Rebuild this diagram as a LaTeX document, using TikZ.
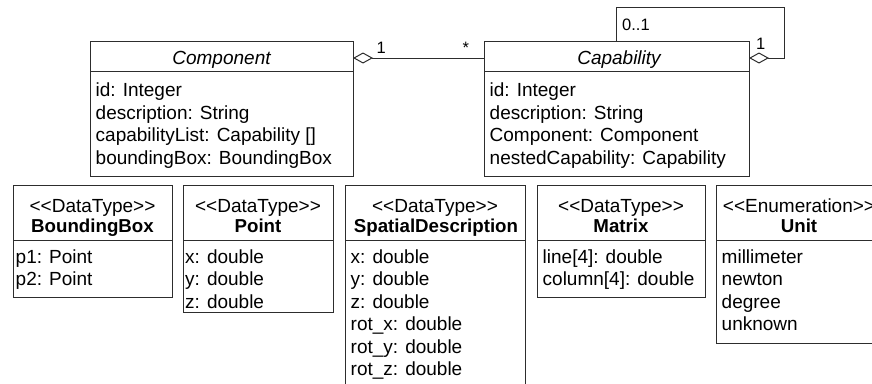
\documentclass[tikz,border=0pt]{standalone}
\usepackage{fontspec}
\setmainfont{Liberation Sans}
\usetikzlibrary{arrows.meta}
\definecolor{lc}{RGB}{45,45,45}
\tikzset{
  box/.style={draw=lc, line width=1pt, inner sep=0pt, outer sep=0pt, anchor=north west},
  attr/.style={anchor=base west, inner sep=0pt, font=\fontsize{19}{22}\selectfont},
  cname/.style={anchor=base, inner sep=0pt, font=\fontsize{19}{22}\selectfont\itshape},
  stereo/.style={anchor=base, inner sep=0pt, font=\fontsize{19}{22}\selectfont},
  dname/.style={anchor=base, inner sep=0pt, font=\fontsize{18.7}{22}\selectfont\bfseries},
  mult/.style={anchor=base west, inner sep=0pt, font=\fontsize{16.5}{18}\selectfont},
  conn/.style={draw=lc, line width=1pt},
  agg/.style={{Diamond[open,length=20pt,width=11pt]}-},
}
\newcommand\attrlist[4]{%
  \foreach \t [count=\i] in {#4} {\node[attr] (#1\i) at ({#2},{#3+22.5*(\i-1)}) {\t};}}
\begin{document}
\begin{tikzpicture}[x=1pt,y=-1pt]
\useasboundingbox (0,0) rectangle (872,383);
\clip (0,0) rectangle (872,383);
% Component
\node[box, minimum width=263pt, minimum height=30pt] (compH) at (90,41) {};
\node[box, minimum width=263pt, minimum height=105pt] (compB) at (90,71) {};
\node[cname] (compN) at (221.5,64) {Component};
\attrlist{comp}{95.5}{96.7}{id: Integer, description: String, {capabilityList: Capability []}, boundingBox: BoundingBox}
% Capability
\node[box, minimum width=265pt, minimum height=30pt] (capH) at (484,41) {};
\node[box, minimum width=265pt, minimum height=105pt] (capB) at (484,71) {};
\node[cname] (capN) at (619,64) {Capability};
\attrlist{cap}{489.5}{96.7}{id: Integer, description: String, Component: Component, nestedCapability: Capability}
% association Component - Capability
\draw[conn, agg] ([yshift=-2pt]compH.east) -- ([yshift=-2pt]capH.west);
\node[mult] (m1) at (376.5,53) {1};
\node[mult] (m2) at (462.5,53) {*};
% self association
\coordinate (loopTR) at (784,7.3);
\draw[conn, agg] ([yshift=-2pt]capH.east) -- ([yshift=-2pt]capH.east -| loopTR) -- (loopTR) -- (capH.north |- loopTR) -- (capH.north);
\node[mult] (m3) at (622,30) {0..1};
\node[mult] (m4) at (756,49.3) {1};
% BoundingBox
\node[box, minimum width=159pt, minimum height=55pt] (bbH) at (13,185) {};
\node[box, minimum width=159pt, minimum height=57pt] (bbB) at (13,240) {};
\node[stereo] (bbS) at (92.5,212) {<{}<DataType>{}>};
\node[dname] (bbN) at (92.5,232.5) {BoundingBox};
\attrlist{bb}{15.5}{263.3}{p1: Point, p2: Point}
% Point
\node[box, minimum width=150pt, minimum height=55pt] (ptH) at (183,185) {};
\node[box, minimum width=150pt, minimum height=72pt] (ptB) at (183,240) {};
\node[stereo] (ptS) at (258,212) {<{}<DataType>{}>};
\node[dname] (ptN) at (258,232.5) {Point};
\attrlist{pt}{185}{263.3}{x: double, y: double, z: double}
% SpatialDescription
\node[box, minimum width=180pt, minimum height=55pt] (sdH) at (345,185) {};
\node[box, minimum width=180pt, minimum height=160pt] (sdB) at (345,240) {};
\node[stereo] (sdS) at (435,212) {<{}<DataType>{}>};
\node[dname] (sdN) at (436,232.5) {SpatialDescription};
\attrlist{sd}{350.5}{263.3}{x: double, y: double, z: double, rot\_x: double, rot\_y: double, rot\_z: double}
% Matrix
\node[box, minimum width=168pt, minimum height=55pt] (mxH) at (537,185) {};
\node[box, minimum width=168pt, minimum height=57pt] (mxB) at (537,240) {};
\node[stereo] (mxS) at (621,212) {<{}<DataType>{}>};
\node[dname] (mxN) at (621,232.5) {Matrix};
\attrlist{mx}{542.5}{263.3}{line[4]: double, column[4]: double}
% Unit
\node[box, minimum width=166pt, minimum height=55pt] (unH) at (716,185) {};
\node[box, minimum width=166pt, minimum height=103pt] (unB) at (716,240) {};
\node[stereo] (unS) at (799,212) {<{}<Enumeration>{}>};
\node[dname] (unN) at (799,232.5) {Unit};
\attrlist{un}{721.5}{263.3}{millimeter, newton, degree, unknown}
\end{tikzpicture}
\end{document}
